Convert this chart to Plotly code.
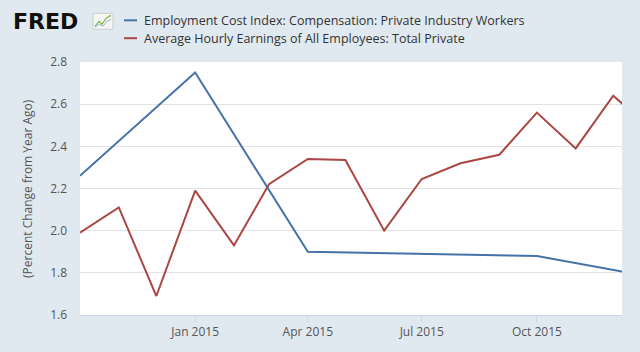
import plotly.graph_objects as go

# ---- data ----
eci_dates = ["2014-10-01", "2015-01-01", "2015-04-01", "2015-07-01", "2015-10-01", "2016-01-01"]
eci_vals = [2.26, 2.75, 1.90, 1.89, 1.88, 1.78]

ahe_dates = ["2014-10-01", "2014-11-01", "2014-12-01", "2015-01-01", "2015-02-01", "2015-03-01",
             "2015-04-01", "2015-05-01", "2015-06-01", "2015-07-01", "2015-08-01", "2015-09-01",
             "2015-10-01", "2015-11-01", "2015-12-01", "2016-01-01"]
ahe_vals = [1.99, 2.11, 1.69, 2.19, 1.93, 2.22, 2.34, 2.335, 2.00, 2.245, 2.32, 2.36,
            2.56, 2.39, 2.64, 2.48]

series_names = ["Employment Cost Index: Compensation: Private Industry Workers",
                "Average Hourly Earnings of All Employees: Total Private"]
tick_vals = ["2015-01-01", "2015-04-01", "2015-07-01", "2015-10-01"]
tick_text = ["Jan 2015", "Apr 2015", "Jul 2015", "Oct 2015"]
y_title = "(Percent Change from Year Ago)"

BLUE = "#4572a7"
RED = "#aa4643"
BG = "#e1e9f0"
FONT = "Open Sans"

fig = go.Figure()
fig.add_trace(go.Scatter(x=eci_dates, y=eci_vals, mode="lines", name=series_names[0],
                         line=dict(color=BLUE, width=2)))
fig.add_trace(go.Scatter(x=ahe_dates, y=ahe_vals, mode="lines", name=series_names[1],
                         line=dict(color=RED, width=2)))

W, H = 640, 352
L, R, T, B = 80, 18, 62, 35
PW, PH = W - L - R, H - T - B

fig.update_layout(
    width=W, height=H,
    margin=dict(l=L, r=R, t=T, b=B),
    paper_bgcolor=BG, plot_bgcolor="white",
    showlegend=False,
    font=dict(family=FONT, color="#555555", size=12),
    xaxis=dict(type="date", range=["2014-10-01", "2015-12-08"],
               tickvals=tick_vals, ticktext=tick_text,
               ticks="outside", ticklen=6, tickcolor="#ccd6eb",
               showgrid=False, showline=True, linecolor="#ccd6eb", linewidth=1,
               tickfont=dict(size=12, color="#555555"), fixedrange=True),
    yaxis=dict(range=[1.6, 2.8], dtick=0.2, tick0=1.6, tickformat=".1f",
               showgrid=True, gridcolor="#e3e3e3", gridwidth=1,
               zeroline=False, ticks="", ticklabelstandoff=12,
               tickfont=dict(size=12, color="#555555"), fixedrange=True),
)

def px_x(x):
    return (x - L) / PW

def px_y(y):
    return 1 - (y - T) / PH

ann = []
shapes = []
# y-axis title
ann.append(dict(text=y_title, xref="paper", yref="paper",
                x=px_x(28), y=px_y(190), showarrow=False, textangle=-90,
                font=dict(size=12, color="#555555"), xanchor="center", yanchor="middle"))
# FRED logo text
ann.append(dict(text="<b>FRED</b>", xref="paper", yref="paper",
                x=px_x(11), y=px_y(21), showarrow=False, xanchor="left", yanchor="middle",
                font=dict(family="DejaVu Sans", size=22, color="#111111")))
# small logo icon
shapes.append(dict(type="rect", xref="paper", yref="paper",
                   x0=px_x(93), x1=px_x(113), y0=px_y(29), y1=px_y(13),
                   fillcolor="#f4f6f4", line=dict(color="#c8cfc8", width=1)))
icon_pts = [(95, 26), (99, 21), (102, 24), (106, 18), (111, 15)]
path = "M " + " L ".join(f"{px_x(a)},{px_y(b)}" for a, b in icon_pts)
shapes.append(dict(type="path", xref="paper", yref="paper", path=path,
                   line=dict(color="#7fae4f", width=1.2)))
icon_pts2 = [(95, 27), (99, 24), (103, 26), (107, 21), (111, 19)]
path2 = "M " + " L ".join(f"{px_x(a)},{px_y(b)}" for a, b in icon_pts2)
shapes.append(dict(type="path", xref="paper", yref="paper", path=path2,
                   line=dict(color="#9bb8d6", width=1)))

# legend
for i, (name, col) in enumerate(zip(series_names, [BLUE, RED])):
    yy = 20 + i * 18
    shapes.append(dict(type="line", xref="paper", yref="paper",
                       x0=px_x(124), x1=px_x(137), y0=px_y(yy), y1=px_y(yy),
                       line=dict(color=col, width=2)))
    ann.append(dict(text=name, xref="paper", yref="paper", x=px_x(142), y=px_y(yy),
                    xanchor="left", yanchor="middle", showarrow=False,
                    font=dict(size=12.5, color="#333333")))

fig.update_layout(annotations=ann, shapes=shapes)
fig.write_html("out.html")
